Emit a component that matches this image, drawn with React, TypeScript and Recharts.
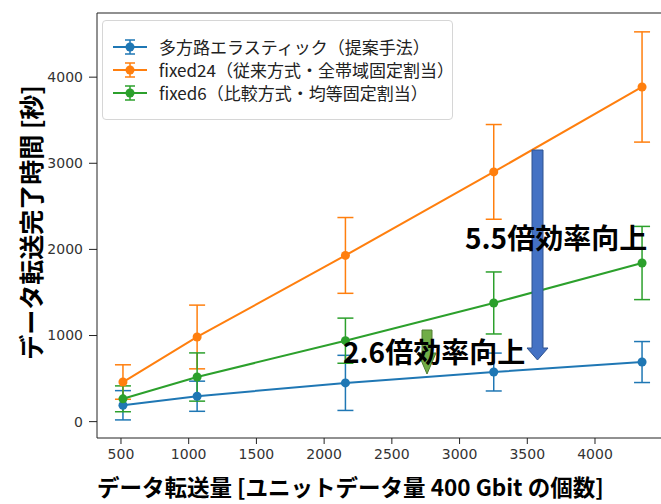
import { LineChart, Line, XAxis, YAxis, ErrorBar, Legend, Label, ReferenceLine } from 'recharts'

// x: データ転送量 (ユニットデータ量の個数)
const transferCounts = [500, 1000, 2000, 3000, 4000]

// y: データ転送完了時間 [秒] と標準偏差
const elasticTime = [190, 295, 450, 576, 692]
const elasticErr = [170, 175, 320, 220, 238]
const fixed24Time = [460, 983, 1930, 2900, 3886]
const fixed24Err = [200, 370, 440, 550, 640]
const fixed6Time = [265, 518, 940, 1378, 1842]
const fixed6Err = [150, 280, 262, 360, 425]

const xTicks = [500, 1000, 1500, 2000, 2500, 3000, 3500, 4000]
const yTicks = [0, 1000, 2000, 3000, 4000]

// 目盛り軸とデータ軸は元画像で縮尺がずれている
const xDataDomain = [325, 4175]
const xTickDomain = [323, 4539]
const yDomain = [-190, 4745]

const seriesNames = ['多方路エラスティック（提案手法）', 'fixed24（従来方式・全帯域固定割当）', 'fixed6（比較方式・均等固定割当）']
const colors = ['#1f77b4', '#ff7f0e', '#2ca02c']

const data = transferCounts.map((x, i) => ({
    x,
    elastic: elasticTime[i],
    elasticErr: elasticErr[i],
    fixed24: fixed24Time[i],
    fixed24Err: fixed24Err[i],
    fixed6: fixed6Time[i],
    fixed6Err: fixed6Err[i],
}))

const tickStyle = { fill: '#333', fontSize: 14, fontFamily: 'DejaVu Sans' }
const cjk = '"Noto Sans CJK JP", "Noto Sans", sans-serif'

const LegendBox = () => (
    <div
        style={{
            width: 351,
            height: 100,
            boxSizing: 'border-box',
            border: '1px solid #d6d6d6',
            borderRadius: 4,
            background: 'rgba(255,255,255,0.8)',
            padding: '14px 0 0 9px',
            fontFamily: cjk,
            fontSize: 17,
            color: '#222',
        }}
    >
        {seriesNames.map((name, i) => (
            <div key={name} style={{ display: 'flex', alignItems: 'center', height: 23 }}>
                <svg width={36} height={20} style={{ marginRight: 11 }}>
                    <line x1={1} y1={10} x2={35} y2={10} stroke={colors[i]} strokeWidth={2} />
                    <line x1={18} y1={3} x2={18} y2={17} stroke={colors[i]} strokeWidth={1.5} />
                    <line x1={13} y1={3} x2={23} y2={3} stroke={colors[i]} strokeWidth={1.5} />
                    <line x1={13} y1={17} x2={23} y2={17} stroke={colors[i]} strokeWidth={1.5} />
                    <circle cx={18} cy={10} r={4.5} fill={colors[i]} />
                </svg>
                <span>{name}</span>
            </div>
        ))}
    </div>
)

export default function App() {
    return (
        <div style={{ position: 'absolute', left: 0, top: 0, width: 661, height: 504, overflow: 'hidden', background: '#fff' }}>
            <LineChart width={680} height={504} data={data} margin={{ top: 13, right: 12, left: 0, bottom: 0 }}>
                <XAxis
                    xAxisId="a-ticks"
                    dataKey="x"
                    type="number"
                    domain={xTickDomain}
                    allowDataOverflow
                    ticks={xTicks}
                    interval={0}
                    height={66}
                    tick={tickStyle}
                    tickSize={6}
                    tickMargin={5}
                    stroke="#222"
                >
                    <Label
                        content={({ viewBox }: any) => (
                            <text
                                x={viewBox.x}
                                y={496}
                                fontFamily={cjk}
                                fontSize={22.5}
                                fontWeight="bold"
                                fill="#000"
                            >
                                データ転送量 [ユニットデータ量 400 Gbit の個数]
                            </text>
                        )}
                    />
                </XAxis>
                <XAxis
                    xAxisId="b-data"
                    dataKey="x"
                    type="number"
                    domain={xDataDomain}
                    allowDataOverflow
                    height={0}
                    tick={false}
                    tickLine={false}
                    axisLine={false}
                />
                <YAxis
                    type="number"
                    domain={yDomain}
                    allowDataOverflow
                    ticks={yTicks}
                    interval={0}
                    width={97}
                    tick={tickStyle}
                    tickSize={8}
                    tickMargin={6}
                    stroke="#222"
                >
                    <Label
                        content={({ viewBox }: any) => (
                            <text
                                x={30}
                                y={viewBox.y + viewBox.height / 2 - 3}
                                transform={`rotate(-90, 30, ${viewBox.y + viewBox.height / 2 - 3})`}
                                textAnchor="middle"
                                dominantBaseline="central"
                                fontFamily={cjk}
                                fontSize={25}
                                fontWeight="bold"
                                fill="#000"
                            >
                                データ転送完了時間 [秒]
                            </text>
                        )}
                    />
                </YAxis>
                <ReferenceLine xAxisId="b-data" y={yDomain[1]} stroke="#222" strokeWidth={1.2} />
                <Legend
                    layout="horizontal"
                    verticalAlign="middle"
                    align="center"
                    wrapperStyle={{ position: 'absolute', left: 102, top: 20, width: 351, height: 100 }}
                    content={<LegendBox />}
                />
                {/* 目盛り軸にスケールを与えるための不可視の系列 */}
                <Line
                    xAxisId="a-ticks"
                    dataKey="fixed6"
                    stroke="none"
                    dot={false}
                    legendType="none"
                    isAnimationActive={false}
                />
                <Line
                    xAxisId="b-data"
                    dataKey="elastic"
                    name={seriesNames[0]}
                    stroke={colors[0]}
                    strokeWidth={2}
                    dot={{ r: 4.5, fill: colors[0], stroke: 'none' }}
                    isAnimationActive={false}
                >
                    <ErrorBar dataKey="elasticErr" direction="y" width={8} stroke={colors[0]} strokeWidth={1.5} isAnimationActive={false} />
                </Line>
                <Line
                    xAxisId="b-data"
                    dataKey="fixed24"
                    name={seriesNames[1]}
                    stroke={colors[1]}
                    strokeWidth={2}
                    dot={{ r: 4.5, fill: colors[1], stroke: 'none' }}
                    isAnimationActive={false}
                >
                    <ErrorBar dataKey="fixed24Err" direction="y" width={8} stroke={colors[1]} strokeWidth={1.5} isAnimationActive={false} />
                </Line>
                <Line
                    xAxisId="b-data"
                    dataKey="fixed6"
                    name={seriesNames[2]}
                    stroke={colors[2]}
                    strokeWidth={2}
                    dot={{ r: 4.5, fill: colors[2], stroke: 'none' }}
                    isAnimationActive={false}
                >
                    <ErrorBar dataKey="fixed6Err" direction="y" width={8} stroke={colors[2]} strokeWidth={1.5} isAnimationActive={false} />
                </Line>
            </LineChart>
            {/* 注記の矢印と文字 */}
            <svg width={661} height={504} style={{ position: 'absolute', left: 0, top: 0, pointerEvents: 'none' }}>
                <polygon
                    points="532,150 543,150 543,348 548,348 537.5,360 527,348 532,348"
                    fill="#4472C4"
                    stroke="#2F528F"
                    strokeWidth={1}
                />
                <polygon
                    points="422,330 432,330 432,353 436,353 427,374 418,353 422,353"
                    fill="#70AD47"
                    stroke="#507E32"
                    strokeWidth={1}
                />
                <text x={465} y={249} fontFamily={cjk} fontSize={28} fontWeight="bold" fill="#000">
                    5.5倍効率向上
                </text>
                <text x={343} y={363} fontFamily={cjk} fontSize={28} fontWeight="bold" fill="#000">
                    2.6倍効率向上
                </text>
            </svg>
        </div>
    )
}
